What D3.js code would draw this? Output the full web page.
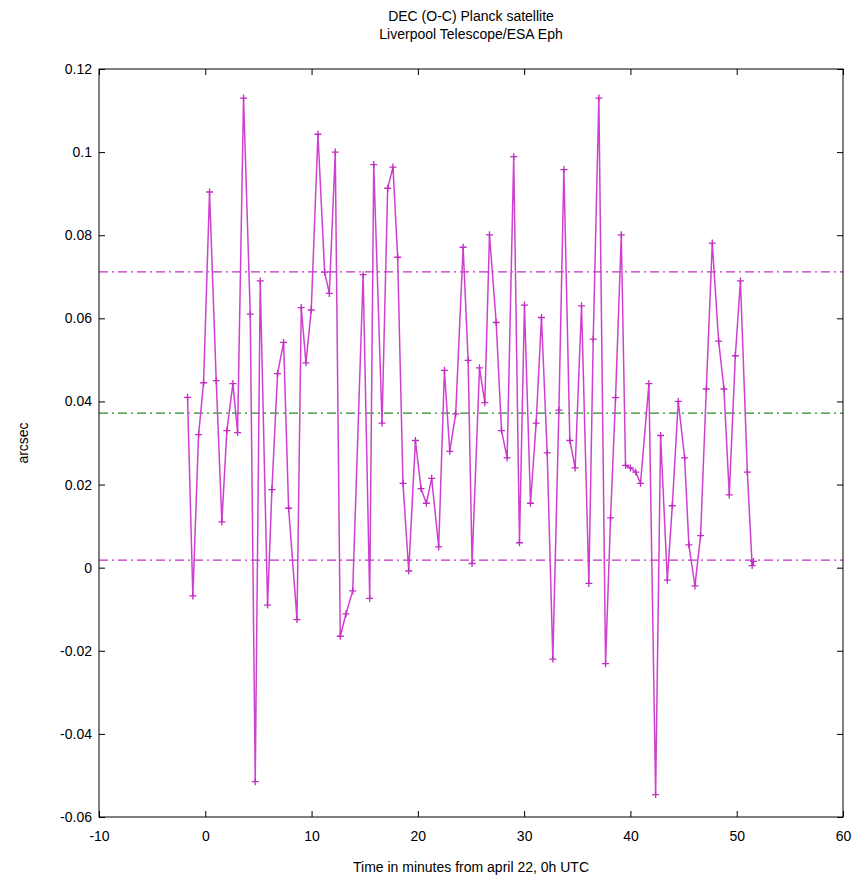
<!DOCTYPE html>
<html>
<head>
<meta charset="utf-8">
<script src="https://cdn.jsdelivr.net/npm/d3@7"></script>
<style>
  html, body { margin: 0; padding: 0; background: #fff; overflow: hidden; }
  svg { display: block; }
  text { font-family: "Liberation Sans", Arial, sans-serif; fill: #000; }
</style>
</head>
<body>
<svg id="chart" width="867" height="877"></svg>
<script>
// minutes from april 22, 0h UTC
const times = [
  -1.67, -1.17, -0.63, -0.16, 0.4, 1.03, 1.56, 2.03, 2.6, 3.04,
  3.6, 4.23, 4.7, 5.17, 5.86, 6.27, 6.8, 7.37, 7.84, 8.63,
  9.03, 9.47, 9.97, 10.6, 11.23, 11.67, 12.23, 12.7, 13.24, 13.87,
  14.85, 15.47, 15.85, 16.63, 17.16, 17.66, 18.1, 18.6, 19.14, 19.77,
  20.3, 20.8, 21.3, 21.96, 22.5, 23.0, 23.56, 24.26, 24.73, 25.1,
  25.8, 26.3, 26.74, 27.37, 27.87, 28.4, 29.02, 29.56, 30.03, 30.6,
  31.13, 31.63, 32.17, 32.7, 33.27, 33.74, 34.3, 34.8, 35.4, 36.09,
  36.5, 37.03, 37.66, 38.13, 38.6, 39.14, 39.54, 40.0, 40.5, 40.95,
  41.74, 42.37, 42.84, 43.47, 43.94, 44.5, 45.1, 45.5, 46.07, 46.6,
  47.14, 47.7, 48.3, 48.8, 49.3, 49.87, 50.35, 51.0, 51.45, 51.58
];
// DEC observed minus computed, arcsec
const offsets = [
  0.041, -0.0068, 0.032, 0.0445, 0.0904, 0.045, 0.011, 0.033, 0.0443, 0.0325,
  0.113, 0.061, -0.0515, 0.069, -0.009, 0.0188, 0.0467, 0.0542, 0.0143, -0.0125,
  0.0626, 0.0493, 0.062, 0.1043, 0.0711, 0.066, 0.1, -0.0165, -0.0111, -0.0056,
  0.0705, -0.0074, 0.097, 0.0348, 0.0913, 0.0964, 0.0747, 0.0203, -0.0008, 0.0306,
  0.019, 0.0155, 0.0215, 0.005, 0.0475, 0.028, 0.037, 0.0771, 0.0499, 0.001,
  0.0481, 0.0397, 0.0801, 0.059, 0.033, 0.0264, 0.0989, 0.006, 0.0632, 0.0155,
  0.0348, 0.0602, 0.0276, -0.022, 0.0379, 0.0958, 0.0306, 0.024, 0.063, -0.0038,
  0.055, 0.113, -0.0231, 0.012, 0.0409, 0.0801, 0.0246, 0.024, 0.023, 0.0203,
  0.0443, -0.0546, 0.0318, -0.003, 0.0149, 0.04, 0.0264, 0.0055, -0.0044, 0.0077,
  0.043, 0.0781, 0.0545, 0.043, 0.0175, 0.051, 0.069, 0.023, 0.0005, 0.0015
];
const meanLine = [0.0372];
const sigmaLines = [0.0712, 0.0018];
const xTicks = [-10, 0, 10, 20, 30, 40, 50, 60];
const yTicks = [-0.06, -0.04, -0.02, 0, 0.02, 0.04, 0.06, 0.08, 0.1, 0.12];

const margin = { top: 69, right: 24, bottom: 60, left: 99 };
const width = 867;
const height = 877;
const innerWidth = width - margin.left - margin.right;
const innerHeight = height - margin.top - margin.bottom;

const data = times.map((t, i) => ({ t: t, v: offsets[i] }));

const svg = d3.select("#chart");
const g = svg.append("g").attr("transform", `translate(${margin.left},${margin.top})`);

const x = d3.scaleLinear().domain([-10, 60]).range([0, innerWidth]);
const y = d3.scaleLinear().domain([-0.06, 0.12]).range([innerHeight, 0]);
const fmt = d => String(+d.toFixed(2));

// reference lines (dash-dot)
g.selectAll(".sigma")
  .data(sigmaLines)
  .enter()
  .append("line")
  .attr("class", "sigma")
  .attr("x1", 0).attr("x2", innerWidth)
  .attr("y1", d => y(d)).attr("y2", d => y(d))
  .attr("stroke", "#c030c0")
  .attr("stroke-width", 1.3)
  .attr("stroke-dasharray", "9,4,2,4");

g.selectAll(".mean")
  .data(meanLine)
  .enter()
  .append("line")
  .attr("class", "mean")
  .attr("x1", 0).attr("x2", innerWidth)
  .attr("y1", d => y(d)).attr("y2", d => y(d))
  .attr("stroke", "#2a8a2a")
  .attr("stroke-width", 1.3)
  .attr("stroke-dasharray", "9,4,2,4");

// data series
const line = d3.line().x(d => x(d.t)).y(d => y(d.v));
g.append("path")
  .datum(data)
  .attr("fill", "none")
  .attr("stroke", "#d040d0")
  .attr("stroke-width", 1.5)
  .attr("d", line);

g.selectAll(".mark")
  .data(data)
  .enter()
  .append("path")
  .attr("class", "mark")
  .attr("transform", d => `translate(${x(d.t)},${y(d.v)})`)
  .attr("d", "M-3.5,0H3.5M0,-3.5V3.5")
  .attr("stroke", "#c02cc0")
  .attr("stroke-width", 1.3);

// axes, box with inward ticks on all sides
const tickLen = 6;
g.append("g")
  .attr("transform", `translate(0,${innerHeight})`)
  .call(d3.axisBottom(x).tickValues(xTicks).tickSize(-tickLen).tickPadding(14).tickFormat(d => d))
  .call(a => a.select(".domain").remove());
g.append("g")
  .call(d3.axisTop(x).tickValues(xTicks).tickSize(-tickLen).tickFormat(""))
  .call(a => a.select(".domain").remove())
  .call(a => a.selectAll("text").remove());
g.append("g")
  .call(d3.axisLeft(y).tickValues(yTicks).tickSize(-tickLen).tickPadding(7).tickFormat(fmt))
  .call(a => a.select(".domain").remove());
g.append("g")
  .attr("transform", `translate(${innerWidth},0)`)
  .call(d3.axisRight(y).tickValues(yTicks).tickSize(-tickLen).tickFormat(""))
  .call(a => a.select(".domain").remove())
  .call(a => a.selectAll("text").remove());

g.selectAll(".tick text").style("font-size", "14px").style("font-family", "Liberation Sans, Arial, sans-serif");
g.selectAll(".tick line").attr("stroke", "#000");

g.append("rect")
  .attr("width", innerWidth)
  .attr("height", innerHeight)
  .attr("fill", "none")
  .attr("stroke", "#000")
  .attr("stroke-width", 1);

// labels
g.append("text")
  .attr("x", innerWidth / 2)
  .attr("y", -48)
  .attr("text-anchor", "middle")
  .style("font-size", "14px")
  .text("DEC (O-C) Planck satellite");
g.append("text")
  .attr("x", innerWidth / 2)
  .attr("y", -30)
  .attr("text-anchor", "middle")
  .style("font-size", "14px")
  .text("Liverpool Telescope/ESA Eph");
g.append("text")
  .attr("x", innerWidth / 2)
  .attr("y", innerHeight + 55)
  .attr("text-anchor", "middle")
  .style("font-size", "14px")
  .text("Time in minutes from april 22, 0h UTC");
g.append("text")
  .attr("transform", `translate(-71,${innerHeight / 2}) rotate(-90)`)
  .attr("text-anchor", "middle")
  .style("font-size", "14px")
  .text("arcsec");
</script>
</body>
</html>
